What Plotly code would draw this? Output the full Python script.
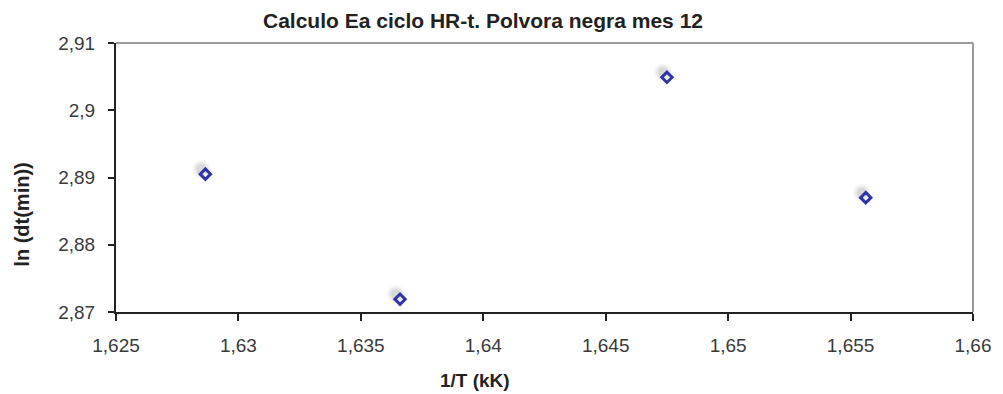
import plotly.graph_objects as go

# Data
inv_T = [1.62865, 1.6366, 1.6475, 1.65562]
ln_dt = [2.8905, 2.8719, 2.9049, 2.8870]

x_ticks = [1.625, 1.63, 1.635, 1.64, 1.645, 1.65, 1.655, 1.66]
x_tick_labels = ["1,625", "1,63", "1,635", "1,64", "1,645", "1,65", "1,655", "1,66"]
y_ticks = [2.87, 2.88, 2.89, 2.9, 2.91]
y_tick_labels = ["2,87", "2,88", "2,89", "2,9", "2,91"]

title_text = "Calculo Ea ciclo HR-t. Polvora negra mes 12"
x_title = "1/T (kK)"
y_title = "ln (dt(min))"

X_RANGE = [1.625, 1.66]
Y_RANGE = [2.87, 2.91]

W, H = 1003, 394
ML, MR, MT, MB = 116, 24, 43, 82
pw = W - ML - MR
ph = H - MT - MB

# shadow offset (pixels -> data units) applied through a shifted axis range
sdx = 4 * (X_RANGE[1] - X_RANGE[0]) / pw
sdy = 5 * (Y_RANGE[1] - Y_RANGE[0]) / ph

fig = go.Figure()

# soft shadow (several translucent circles) on base axes with shifted ranges
for s, op in [(18, 0.08), (14, 0.12), (10, 0.18)]:
    fig.add_trace(go.Scatter(
        x=inv_T, y=ln_dt, mode="markers", xaxis="x", yaxis="y",
        marker=dict(symbol="circle", size=s, color="#888888", opacity=op, line=dict(width=0)),
        hoverinfo="skip", showlegend=False,
    ))

# main markers on the visible overlay axes
fig.add_trace(go.Scatter(
    x=inv_T, y=ln_dt, mode="markers", xaxis="x2", yaxis="y2",
    marker=dict(symbol="diamond-open", size=8, color="#3034a8", line=dict(width=3, color="#3034a8")),
    showlegend=False,
))

FONT = "Liberation Sans, Arial, sans-serif"
tickfont = dict(family=FONT, size=19, color="#3a3a3a")

fig.update_layout(
    width=W, height=H,
    margin=dict(l=ML, r=MR, t=MT, b=MB),
    paper_bgcolor="white", plot_bgcolor="white",
    showlegend=False,
    xaxis=dict(range=[X_RANGE[0] + sdx, X_RANGE[1] + sdx], visible=False, fixedrange=True),
    yaxis=dict(range=[Y_RANGE[0] - sdy, Y_RANGE[1] - sdy], visible=False, fixedrange=True),
    xaxis2=dict(
        range=X_RANGE, overlaying="x", anchor="y2", side="bottom",
        tickvals=x_ticks, ticktext=x_tick_labels,
        showgrid=False, zeroline=False,
        showline=True, linecolor="#222222", linewidth=2,
        ticks="outside", ticklen=7, tickwidth=2, tickcolor="#222222",
        tickfont=tickfont, ticklabelstandoff=8,
    ),
    yaxis2=dict(
        range=Y_RANGE, overlaying="y", anchor="x2", side="left",
        tickvals=y_ticks, ticktext=y_tick_labels,
        showgrid=False, zeroline=False,
        showline=True, linecolor="#222222", linewidth=2,
        ticks="outside", ticklen=6, tickwidth=2, tickcolor="#222222",
        tickfont=tickfont, ticklabelstandoff=9,
    ),
    shapes=[
        dict(type="line", xref="paper", yref="paper", x0=0, x1=1, y0=1, y1=1,
             line=dict(color="#9a9a9a", width=2)),
        dict(type="line", xref="paper", yref="paper", x0=1, x1=1, y0=0, y1=1,
             line=dict(color="#9a9a9a", width=2)),
    ],
    annotations=[
        dict(text=title_text, xref="paper", yref="paper",
             x=(486 - ML) / pw, y=1 + (MT - 20) / ph, xanchor="center", yanchor="middle",
             showarrow=False,
             font=dict(family=FONT, size=21, color="#222222", weight="bold")),
        dict(text=x_title, xref="paper", yref="paper",
             x=(478 - ML) / pw, y=-(380 - (MT + ph)) / ph, xanchor="center", yanchor="middle",
             showarrow=False,
             font=dict(family=FONT, size=19, color="#222222", weight="bold")),
        dict(text=y_title, xref="paper", yref="paper", textangle=-90,
             x=(21 - ML) / pw, y=(MT + ph - 215) / ph, xanchor="center", yanchor="middle",
             showarrow=False,
             font=dict(family=FONT, size=20, color="#222222", weight="bold")),
    ],
)

fig.write_html("out.html")
